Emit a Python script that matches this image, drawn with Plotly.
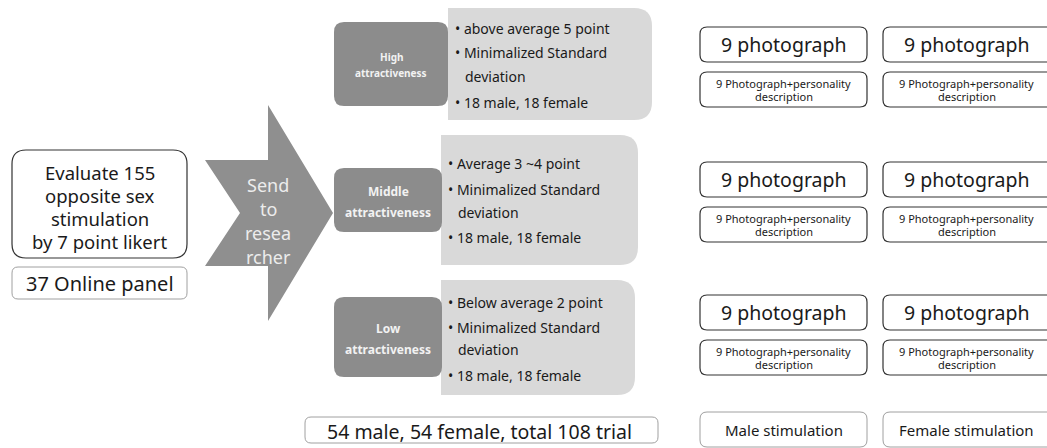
import plotly.graph_objects as go

# ---- content ----
left_title = ["Evaluate 155", "opposite sex", "stimulation", "by 7 point likert"]
panel_label = "37 Online panel"
arrow_label = ["Send", "to", "resea", "rcher"]
levels = ["High", "Middle", "Low"]
level_suffix = "attractiveness"
criteria = [
    ["above average 5 point", "Minimalized Standard", "deviation", "18 male, 18 female"],
    ["Average 3 ~4 point", "Minimalized Standard", "deviation", "18 male, 18 female"],
    ["Below average 2 point", "Minimalized Standard", "deviation", "18 male, 18 female"],
]
total_label = "54 male, 54 female, total 108 trial"
photo_label = "9 photograph"
photo_desc = ["9 Photograph+personality", "description"]
stim_labels = ["Male stimulation", "Female stimulation"]

# ---- layout geometry (pixels) ----
W, H = 1047, 448
FONT = "Noto Sans"
DARK = "#8c8c8c"
LIGHT = "#d9d9d9"

shapes = []
ann = []


def rrect(x0, y0, x1, y1, r, tl=True, tr=True, br=True, bl=True):
    rtl, rtr, rbr, rbl = (r if tl else 0), (r if tr else 0), (r if br else 0), (r if bl else 0)
    p = f"M {x0+rtl},{y0} L {x1-rtr},{y0} "
    p += f"Q {x1},{y0} {x1},{y0+rtr} " if rtr else ""
    p += f"L {x1},{y1-rbr} "
    p += f"Q {x1},{y1} {x1-rbr},{y1} " if rbr else ""
    p += f"L {x0+rbl},{y1} "
    p += f"Q {x0},{y1} {x0},{y1-rbl} " if rbl else ""
    p += f"L {x0},{y0+rtl} "
    p += f"Q {x0},{y0} {x0+rtl},{y0} " if rtl else ""
    return p + "Z"


def box(x0, y0, x1, y1, r, fill="white", line="#333333", lw=1.2, **kw):
    shapes.append(dict(type="path", path=rrect(x0, y0, x1, y1, r, **kw),
                       fillcolor=fill, line=dict(color=line, width=lw),
                       xref="x", yref="y", layer="below"))


def text(x, y, s, size, color="#1a1a1a", xanchor="center", bold=False):
    ann.append(dict(x=x, y=y, text=(f"<b>{s}</b>" if bold else s), showarrow=False,
                    xref="x", yref="y", xanchor=xanchor, yanchor="middle",
                    font=dict(family=FONT, size=size, color=color)))


# left block
box(12, 150, 187, 258, 14, line="#333333", lw=1.2)
for i, s in enumerate(left_title):
    text(99.5, 172 + i * 23, s, 18.5)
box(12, 267, 187, 299, 6, line="#a0a0a0", lw=1)
text(99.5, 283, panel_label, 20)

# arrow
ax0, anotch, ashaft, atip = 205, 240, 268, 333
acy, shaft_h, head_h = 213, 53, 108
arrow_path = (f"M {ax0},{acy-shaft_h} L {ashaft},{acy-shaft_h} L {ashaft},{acy-head_h} "
              f"L {atip},{acy} L {ashaft},{acy+head_h} L {ashaft},{acy+shaft_h} "
              f"L {ax0},{acy+shaft_h} L {anotch},{acy} Z")
shapes.append(dict(type="path", path=arrow_path, fillcolor="#8f8f8f",
                   line=dict(width=0), xref="x", yref="y", layer="below"))
for i, s in enumerate(arrow_label):
    text(268, 185 + i * 24, s, 18, color="#ececec")

# level rows
dark_boxes = [(334, 22, 448, 106), (334, 168, 442, 232), (334, 297, 442, 377)]
light_boxes = [(448, 8, 652, 120), (441, 135, 638, 265), (441, 280, 635, 395)]
line_y = [[28, 52, 76, 102], [163, 189, 212, 237], [302, 327, 349, 375]]
bullet_x = [455, 448, 448]
lvl_font = [10, 12, 12]
lvl_text_y = [(57, 73), (191, 212), (328, 349)]
for k in range(3):
    lx0, ly0, lx1, ly1 = light_boxes[k]
    box(lx0, ly0, lx1, ly1, 18, fill=LIGHT, line=LIGHT, lw=0, tl=False, bl=False)
    dx0, dy0, dx1, dy1 = dark_boxes[k]
    box(dx0, dy0, dx1, dy1, 10, fill=DARK, line=DARK, lw=0)
    cx = (dx0 + dx1) / 2
    text(cx, lvl_text_y[k][0], levels[k], lvl_font[k], color="#f2f2f2", bold=True)
    text(cx, lvl_text_y[k][1], level_suffix, lvl_font[k], color="#f2f2f2", bold=True)
    for j, s in enumerate(criteria[k]):
        if j == 2:
            text(bullet_x[k] + 8, line_y[k][j], s, 14, xanchor="left")
        else:
            text(bullet_x[k] - 2, line_y[k][j], "• " + s, 14, xanchor="left")

# total
box(305, 417, 658, 443, 6, line="#a0a0a0", lw=1)
text(479, 431, total_label, 19.5)

# right columns
col_x = [(700, 867), (883, 1065)]
col_center = [783.5, 966.5]
row_main = [(27, 62), (162, 197), (295, 330)]
row_sub = [(72, 107), (207, 242), (340, 375)]
for (cx0, cx1), cxm in zip(col_x, col_center):
    for (m0, m1), (s0, s1) in zip(row_main, row_sub):
        box(cx0, m0, cx1, m1, 7)
        text(cxm, (m0 + m1) / 2, photo_label, 19.5)
        box(cx0, s0, cx1, s1, 7)
        text(cxm, (s0 + s1) / 2 - 6.5, photo_desc[0], 11)
        text(cxm, (s0 + s1) / 2 + 6.5, photo_desc[1], 11)
for i, ((cx0, cx1), cxm) in enumerate(zip(col_x, col_center)):
    box(cx0, 412, cx1, 447, 7, line="#a0a0a0", lw=1)
    text(cxm, 430, stim_labels[i], 15)

fig = go.Figure()
fig.update_layout(
    width=W, height=H, margin=dict(l=0, r=0, t=0, b=0),
    paper_bgcolor="white", plot_bgcolor="white",
    xaxis=dict(range=[0, W], visible=False, fixedrange=True),
    yaxis=dict(range=[H, 0], visible=False, fixedrange=True),
    shapes=shapes, annotations=ann, showlegend=False,
)
fig.write_html(
    "out.html",
    config={"displayModeBar": False},
    post_script="document.body.style.margin='0';document.body.style.overflow='hidden';",
)
